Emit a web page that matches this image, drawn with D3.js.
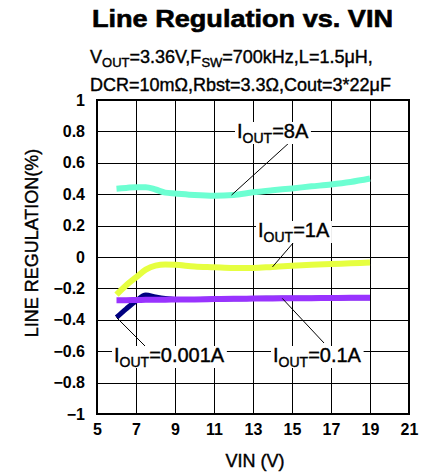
<!DOCTYPE html>
<html>
<head>
<meta charset="utf-8">
<script src="https://cdn.jsdelivr.net/npm/d3@7"></script>
<style>
  body { margin: 0; background: #fff; }
  text { font-family: "Liberation Sans", Arial, sans-serif; fill: #000; }
</style>
</head>
<body>
<svg id="chart"></svg>
<script>
// Data
const VIN = [6, 6.5, 7, 7.5, 8, 8.5, 9, 10, 11, 12, 13, 14, 15, 16, 17, 18, 19];
const REG_8A = [0.435, 0.44, 0.445, 0.445, 0.43, 0.41, 0.405, 0.395, 0.39, 0.395, 0.412, 0.425, 0.437, 0.45, 0.462, 0.478, 0.5];
const REG_1A = [-0.24, -0.18, -0.13, -0.08, -0.055, -0.048, -0.05, -0.06, -0.065, -0.07, -0.07, -0.063, -0.056, -0.05, -0.045, -0.04, -0.035];
const REG_0001A = [-0.385, -0.33, -0.28, -0.242, -0.255, -0.265, -0.27, -0.27, -0.268, -0.266, -0.264, -0.263, -0.262, -0.262, -0.261, -0.26, -0.26];
const REG_01A = [-0.275, -0.275, -0.274, -0.273, -0.272, -0.272, -0.271, -0.27, -0.268, -0.266, -0.265, -0.264, -0.263, -0.262, -0.261, -0.26, -0.26];
const X_TICKS = [5, 7, 9, 11, 13, 15, 17, 19, 21];
const Y_TICKS = [-1, -0.8, -0.6, -0.4, -0.2, 0, 0.2, 0.4, 0.6, 0.8, 1];

const WIDTH = 427;
const HEIGHT = 472;

const svg = d3.select("#chart")
  .attr("width", WIDTH)
  .attr("height", HEIGHT);

// Scales
const x = d3.scaleLinear().domain([5, 21]).range([97, 409]);
const y = d3.scaleLinear().domain([-1, 1]).range([414, 100]);
const px = v => Math.round(v) + 0.5;

// Grid
svg.append("g")
  .selectAll("line")
  .data(X_TICKS.slice(1, -1))
  .enter()
  .append("line")
  .attr("x1", d => px(x(d))).attr("x2", d => px(x(d)))
  .attr("y1", y(1)).attr("y2", y(-1))
  .attr("stroke", "#000").attr("stroke-width", 1)
  .attr("shape-rendering", "crispEdges");

svg.append("g")
  .selectAll("line")
  .data(Y_TICKS.slice(1, -1))
  .enter()
  .append("line")
  .attr("x1", x(5)).attr("x2", x(21))
  .attr("y1", d => px(y(d))).attr("y2", d => px(y(d)))
  .attr("stroke", "#000").attr("stroke-width", 1)
  .attr("shape-rendering", "crispEdges");

// Frame
svg.append("rect")
  .attr("x", x(5)).attr("y", y(1))
  .attr("width", x(21) - x(5)).attr("height", y(-1) - y(1))
  .attr("fill", "none").attr("stroke", "#000").attr("stroke-width", 2)
  .attr("shape-rendering", "crispEdges");

// Axes tick labels
const xAxis = d3.axisBottom(x).tickValues(X_TICKS).tickSize(0).tickPadding(10).tickFormat(d3.format("d"));
svg.append("g")
  .attr("transform", `translate(0,${y(-1)})`)
  .call(xAxis)
  .call(g => g.select(".domain").remove())
  .selectAll("text")
  .attr("font-size", 16).attr("font-weight", "bold")
  .attr("font-family", "Liberation Sans, Arial, sans-serif");

const yAxis = d3.axisLeft(y).tickValues(Y_TICKS).tickSize(0).tickPadding(12).tickFormat(d => d3.format("")(+d.toFixed(1)));
svg.append("g")
  .attr("transform", `translate(${x(5)},0)`)
  .call(yAxis)
  .call(g => g.select(".domain").remove())
  .selectAll("text")
  .attr("font-size", 16).attr("font-weight", "bold")
  .attr("font-family", "Liberation Sans, Arial, sans-serif");

// Axis titles
svg.append("text")
  .attr("x", 255).attr("y", 467)
  .attr("text-anchor", "middle")
  .attr("font-size", 18).attr("stroke", "#000").attr("stroke-width", 0.4)
  .text("VIN (V)");

svg.append("text")
  .attr("transform", "translate(38,243) rotate(-90)")
  .attr("text-anchor", "middle")
  .attr("font-size", 18).attr("stroke", "#000").attr("stroke-width", 0.4)
  .text("LINE REGULATION(%)");

// Title
svg.append("text")
  .attr("x", 92).attr("y", 27)
  .attr("font-size", 24).attr("font-weight", "bold")
  .attr("stroke", "#000").attr("stroke-width", 0.6)
  .attr("textLength", 301).attr("lengthAdjust", "spacingAndGlyphs")
  .text("Line Regulation vs. VIN");

const sub1 = svg.append("text").attr("x", 90).attr("y", 63).attr("font-size", 18)
  .attr("stroke", "#000").attr("stroke-width", 0.4);
sub1.append("tspan").text("V");
sub1.append("tspan").attr("font-size", 13).attr("dy", 4).text("OUT");
sub1.append("tspan").attr("dy", -4).text("=3.36V,F");
sub1.append("tspan").attr("font-size", 13).attr("dy", 4).text("SW");
sub1.append("tspan").attr("dy", -4).text("=700kHz,L=1.5μH,");

svg.append("text").attr("x", 90).attr("y", 91).attr("font-size", 18)
  .attr("stroke", "#000").attr("stroke-width", 0.4)
  .text("DCR=10mΩ,Rbst=3.3Ω,Cout=3*22μF");

// Series
const series = [
  { values: REG_0001A, color: "#000080", width: 5 },
  { values: REG_01A, color: "#9933ff", width: 6 },
  { values: REG_1A, color: "#e6ff40", width: 6 },
  { values: REG_8A, color: "#6dffd2", width: 6 }
];

const line = d3.line()
  .x((d, i) => x(VIN[i]))
  .y(d => y(d))
  .curve(d3.curveMonotoneX);

svg.append("g")
  .selectAll("path")
  .data(series)
  .enter()
  .append("path")
  .attr("d", d => line(d.values))
  .attr("fill", "none")
  .attr("stroke", d => d.color)
  .attr("stroke-width", d => d.width)
  .attr("stroke-linejoin", "round");

// Annotations: label text position, leader line start, and the curve point it points to
const labels = [
  { sub: "=8A", tx: 237, ty: 138, lx: 290, ly: 142, vin: 11.9, val: REG_8A },
  { sub: "=1A", tx: 258, ty: 237, lx: 300, ly: 235, vin: 14, val: REG_1A },
  { sub: "=0.001A", tx: 114, ty: 362, lx: 147, ly: 348, vin: 6, val: REG_0001A },
  { sub: "=0.1A", tx: 273, ty: 362, lx: 324, ly: 343, vin: 14.5, val: REG_01A }
];

const annot = svg.append("g");
labels.forEach(l => {
  const interp = d3.scaleLinear().domain(VIN).range(l.val);
  annot.append("line")
    .attr("x1", l.lx).attr("y1", l.ly)
    .attr("x2", x(l.vin)).attr("y2", y(interp(l.vin)))
    .attr("stroke", "#000").attr("stroke-width", 1);
  const bg = annot.append("rect").attr("fill", "#fff");
  const t = annot.append("text").attr("x", l.tx).attr("y", l.ty).attr("font-size", 20)
    .attr("stroke", "#000").attr("stroke-width", 0.4);
  t.append("tspan").text("I");
  t.append("tspan").attr("font-size", 14).attr("dy", 5).text("OUT");
  t.append("tspan").attr("dy", -5).text(l.sub);
  const b = t.node().getBBox();
  bg.attr("x", b.x - 2).attr("y", b.y + 2)
    .attr("width", b.width + 4).attr("height", b.height - 4);
});
</script>
</body>
</html>
